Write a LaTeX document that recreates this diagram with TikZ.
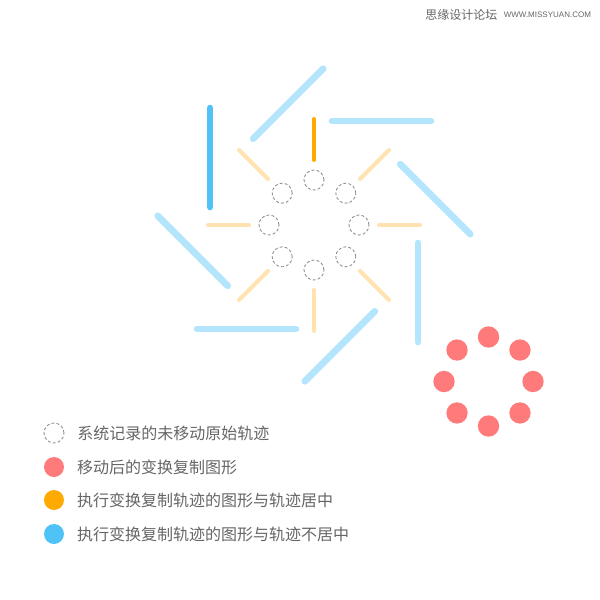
\documentclass[tikz,border=0pt]{standalone}
\usepackage{fontspec}
\setmainfont{Noto Sans CJK SC}
\newfontfamily\urlfont{Liberation Sans}
\usetikzlibrary{calc, positioning}

\definecolor{barblue}{HTML}{B3E5FC}
\definecolor{keyblue}{HTML}{4FC3F7}
\definecolor{spokeorange}{HTML}{FFE2B0}
\definecolor{keyorange}{HTML}{FFAA00}
\definecolor{dotred}{HTML}{FF7B7B}
\definecolor{tracegray}{HTML}{888888}
\definecolor{textgray}{HTML}{666666}

\begin{document}
\begin{tikzpicture}[
        x=0.75pt, y=-0.75pt,
        trace/.style={circle, draw=tracegray, dash pattern=on 2.2pt off 1.6pt, line width=0.6pt, minimum size=15pt, inner sep=0pt},
        dot/.style={circle, fill=dotred, minimum size=16pt, inner sep=0pt},
        keydot/.style={circle, minimum size=15pt, inner sep=0pt},
        spoke/.style={line width=3pt, line cap=round, draw=spokeorange},
        bar/.style={line width=5pt, line cap=round, draw=barblue},
        label/.style={text=textgray, font=\fontsize{12}{14}\selectfont, inner sep=0pt}
    ]
    \useasboundingbox[fill=white] (0,0) rectangle (600,600);

    % pinwheel
    \coordinate (c) at (314,225);
    \foreach \a in {0,45,...,315} {
        \node[trace] (t\a) at ($(c)+(\a:45)$) {};
    }
    \foreach \a in {0,45,90,135,180,225,315} {
        \draw[spoke] ($(c)+(\a:65)$) -- ($(c)+(\a:106)$);
    }
    \draw[spoke, draw=keyorange] ($(c)+(270:65)$) -- ($(c)+(270:106)$);
    \foreach \a in {0,45,90,135,225,270,315} {
        \draw[bar] ($(c)+(\a:104)+(\a+90:18)$) -- ($(c)+(\a:104)+(\a+90:117)$);
    }
    \draw[bar, draw=keyblue] ($(c)+(180:104)+(270:18)$) -- ($(c)+(180:104)+(270:117)$);

    % copies after moving
    \coordinate (r) at (488.5,381.5);
    \foreach \a in {0,45,...,315} {
        \node[dot] (d\a) at ($(r)+(\a:44.5)$) {};
    }

    % legend
    \node[trace] (k1) at (54,433) {};
    \node[keydot, fill=dotred] (k2) at (54,467) {};
    \node[keydot, fill=keyorange] (k3) at (54,500) {};
    \node[keydot, fill=keyblue] (k4) at (54,534) {};
    \node[label, right=9.5pt of k1] (l1) {系统记录的未移动原始轨迹};
    \node[label, right=9.5pt of k2] (l2) {移动后的变换复制图形};
    \node[label, right=9.5pt of k3] (l3) {执行变换复制轨迹的图形与轨迹居中};
    \node[label, right=9.5pt of k4] (l4) {执行变换复制轨迹的图形与轨迹不居中};

    % watermark
    \node[anchor=west, inner sep=0pt, text=textgray, font=\fontsize{9}{10}\selectfont] (wm) at (425,15) {思缘设计论坛};
    \node[right=4.5pt of wm, inner sep=0pt, text=textgray, font=\urlfont\fontsize{6}{7}\selectfont] (url) {WWW.MISSYUAN.COM};
\end{tikzpicture}
\end{document}
